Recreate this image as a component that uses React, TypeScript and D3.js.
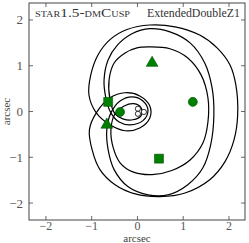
import React from "react";
import * as d3 from "d3";

// critical curves, hand (arcsec)
const curveOuterX = [0.27, 0.82, 1.36, 1.74, 2.02, 2.15, 2.19, 2.11, 1.91, 1.58, 1.04, 0.49, -0.05, -0.49, -0.82, -0.99, -1.05, -0.9, -0.6, -0.27, 0.05, 0.27, 0.27, 0.05, -0.27, -0.6, -0.9, -1.06, -1.02, -0.86, -0.6, -0.23];
const curveOuterY = [1.89, 1.85, 1.67, 1.39, 1.02, 0.58, -0.07, -0.62, -1.1, -1.49, -1.78, -1.86, -1.8, -1.6, -1.27, -0.84, -0.4, -0.03, 0.3, 0.41, 0.34, 0.12, -0.14, -0.36, -0.42, -0.29, -0.03, 0.36, 0.8, 1.24, 1.57, 1.79];

const curveMidX = [0.27, 0.71, 1.15, 1.47, 1.63, 1.67, 1.6, 1.43, 1.1, 0.67, 0.23, -0.21, -0.51, -0.64, -0.67, -0.58, -0.38, -0.12, 0.12, 0.23, 0.12, -0.16, -0.4, -0.58, -0.69, -0.73, -0.64, -0.43, -0.12];
const curveMidY = [1.81, 1.74, 1.5, 1.06, 0.52, -0.07, -0.73, -1.23, -1.6, -1.82, -1.82, -1.64, -1.27, -0.84, -0.4, -0.03, 0.23, 0.32, 0.23, 0.02, -0.2, -0.29, -0.23, -0.03, 0.3, 0.69, 1.13, 1.46, 1.7];

const curveInnerX = [0.27, 0.71, 1.1, 1.39, 1.54, 1.54, 1.43, 1.15, 0.75, 0.32, -0.1, -0.38, -0.53, -0.58, -0.49, -0.29, -0.08, 0.08, 0.08, -0.1, -0.32, -0.49, -0.6, -0.62, -0.51, -0.27, -0.01];
const curveInnerY = [1.41, 1.37, 1.17, 0.8, 0.3, -0.23, -0.69, -1.06, -1.29, -1.38, -1.32, -1.12, -0.79, -0.4, -0.05, 0.12, 0.17, 0.08, -0.09, -0.18, -0.16, -0.05, 0.26, 0.69, 1.06, 1.28, 1.39];

// images (filled) and sources (open)
const squareX = [-0.64, 0.47];
const squareY = [0.21, -1.03];
const circleX = [-0.38, 1.21];
const circleY = [-0.01, 0.21];
const triangleX = [-0.67, 0.32];
const triangleY = [-0.29, 1.06];
const sourceX = [0.01, 0.01, 0.14];
const sourceY = [0.06, -0.05, -0.01];

const ticks = [-2, -1, 0, 1, 2];

const W = 249;
const H = 243;
const left = 29, right = 245, top = 3, bottom = 220;

export default function App() {
  const x = d3.scaleLinear().domain([-2.37, 2.35]).range([left, right]);
  const y = d3.scaleLinear().domain([-2.37, 2.37]).range([bottom, top]);

  const line = d3
    .line<[number, number]>()
    .x((d) => x(d[0]))
    .y((d) => y(d[1]))
    .curve(d3.curveCatmullRomClosed.alpha(0.5));

  const curves = [
    d3.zip(curveOuterX, curveOuterY),
    d3.zip(curveMidX, curveMidY),
    d3.zip(curveInnerX, curveInnerY),
  ] as [number, number][][];

  const sym = (type: d3.SymbolType, size: number) => d3.symbol().type(type).size(size)() as string;
  const green = "#008000";
  const edge = "#005000";
  const font = "'Liberation Serif', serif";
  const fmt = (t: number) => (t < 0 ? "\u2212" + Math.abs(t) : String(t));

  return (
    <svg
      width={W}
      height={H}
      style={{ position: "absolute", left: 0, top: 0, background: "white" }}
    >
      <clipPath id="plotclip">
        <rect x={left} y={top} width={right - left} height={bottom - top} />
      </clipPath>
      <g clipPath="url(#plotclip)">
        {curves.map((c, i) => (
          <path key={i} d={line(c) as string} fill="none" stroke="black" strokeWidth={1.2} />
        ))}
        {sourceX.map((v, i) => (
          <circle key={i} cx={x(v)} cy={y(sourceY[i])} r={2.6} fill="white" stroke="black" strokeWidth={0.8} />
        ))}
        {squareX.map((v, i) => (
          <path key={i} d={sym(d3.symbolSquare, 80)} transform={`translate(${x(v)},${y(squareY[i])})`} fill={green} stroke={edge} strokeWidth={0.6} />
        ))}
        {circleX.map((v, i) => (
          <path key={i} d={sym(d3.symbolCircle, 64)} transform={`translate(${x(v)},${y(circleY[i])})`} fill={green} stroke={edge} strokeWidth={0.6} />
        ))}
        {triangleX.map((v, i) => (
          <path key={i} d={sym(d3.symbolTriangle, 60)} transform={`translate(${x(v)},${y(triangleY[i])})`} fill={green} stroke={edge} strokeWidth={0.6} />
        ))}
      </g>
      <rect x={left} y={top} width={right - left} height={bottom - top} fill="none" stroke="#444" strokeWidth={1} />
      {ticks.map((t) => (
        <g key={"x" + t} stroke="#444" strokeWidth={0.8}>
          <line x1={x(t)} x2={x(t)} y1={bottom} y2={bottom - 4} />
          <line x1={x(t)} x2={x(t)} y1={top} y2={top + 4} />
          <line y1={y(t)} y2={y(t)} x1={left} x2={left + 4} />
          <line y1={y(t)} y2={y(t)} x1={right} x2={right - 4} />
        </g>
      ))}
      {ticks.map((t) => (
        <text key={"xl" + t} x={x(t)} y={bottom + 10} textAnchor="middle" fontFamily={font} fontSize={12} fill="#555">
          {fmt(t)}
        </text>
      ))}
      {ticks.map((t) => (
        <text key={"yl" + t} x={left - 6} y={y(t) + 4.5} textAnchor="end" fontFamily={font} fontSize={13} fill="#555">
          {fmt(t)}
        </text>
      ))}
      <text x={(left + right) / 2} y={242} textAnchor="middle" fontFamily={font} fontSize={11} fill="#444">
        arcsec
      </text>
      <text transform={`translate(9.5,${(top + bottom) / 2}) rotate(-90)`} textAnchor="middle" fontFamily={font} fontSize={11} fill="#444">
        arcsec
      </text>
      <text x={35} y={17} fontFamily={font} fontSize={12} fill="#333" style={{ fontVariant: "small-caps" }} textLength={95} lengthAdjust="spacingAndGlyphs">
        star1.5-dmCusp
      </text>
      <text x={147} y={17} fontFamily={font} fontSize={12} fill="#333" textLength={93} lengthAdjust="spacingAndGlyphs">
        ExtendedDoubleZ1
      </text>
    </svg>
  );
}
